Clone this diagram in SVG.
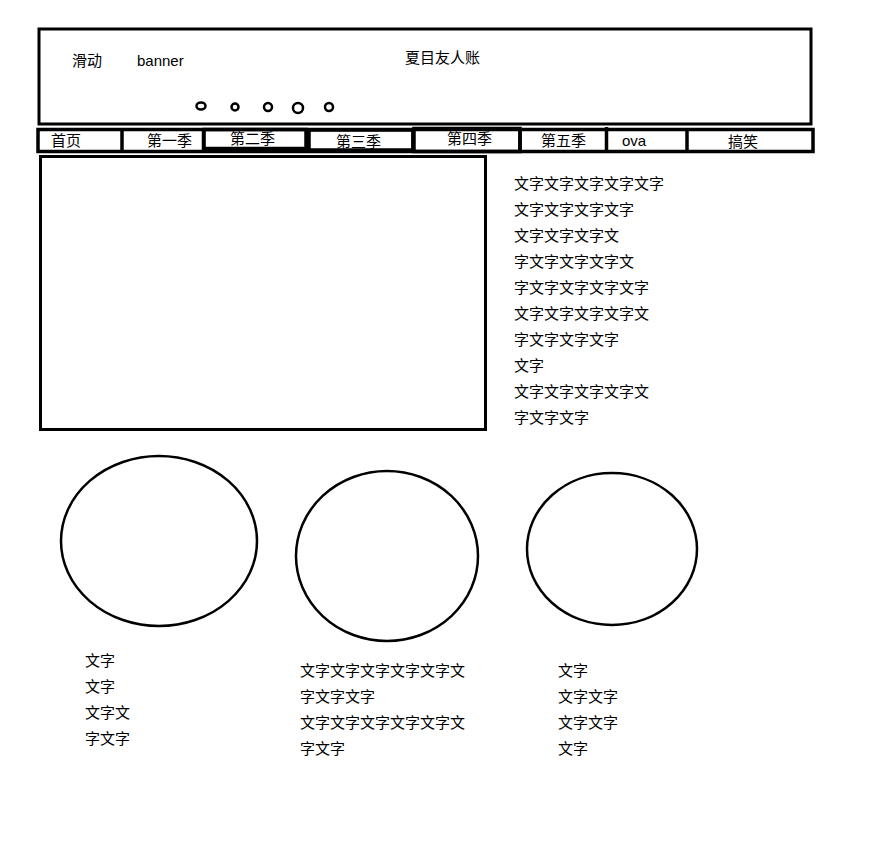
<svg xmlns="http://www.w3.org/2000/svg" width="894" height="841" viewBox="0 0 894 841">
<style>
.box{fill:none;stroke:#000;stroke-width:3}
.nb{fill:none;stroke:#000;stroke-width:3.5}
.dot{fill:#fff;stroke:#000;stroke-width:2.5}
.ell{fill:none;stroke:#000;stroke-width:2.5}
text{font-family:"Liberation Sans","Noto Sans CJK SC",sans-serif;font-size:15px;fill:#000}
.cj{font-family:"Noto Sans CJK SC","Liberation Sans",sans-serif;font-size:15px}
</style>
<rect width="894" height="841" fill="#fff"/>
<g id="banner">
<rect class="box" x="39" y="29" width="772" height="95"/>
<text class="cj" x="72" y="66">滑动</text>
<text x="137" y="66" font-size="16">banner</text>
<text class="cj" x="405" y="63">夏目友人账</text>
<ellipse class="dot" cx="201" cy="106" rx="4.5" ry="3.5"/>
<circle class="dot" cx="235" cy="107" r="3.5"/>
<circle class="dot" cx="268" cy="107" r="4"/>
<circle class="dot" cx="298" cy="108" r="5"/>
<circle class="dot" cx="329" cy="107" r="4"/>
</g>
<g id="nav">
<rect class="nb" x="38" y="129.5" width="775" height="22"/>
<line class="nb" x1="122" y1="129" x2="122" y2="152"/>
<line class="nb" x1="203.5" y1="129" x2="203.5" y2="152"/>
<rect class="nb" x="204" y="129.5" width="102" height="19"/>
<line class="nb" x1="308" y1="129" x2="308" y2="152"/>
<rect class="nb" x="309" y="130" width="104" height="20"/>
<line class="nb" x1="413" y1="129" x2="413" y2="152"/>
<rect class="nb" x="414" y="128.5" width="106" height="23"/>
<line class="nb" x1="520" y1="129" x2="520" y2="153"/>
<line class="nb" x1="606.5" y1="127" x2="606.5" y2="152"/>
<line class="nb" x1="687" y1="129" x2="687" y2="152"/>
<text class="cj" x="51" y="146">首页</text>
<text class="cj" x="147" y="146">第一季</text>
<text class="cj" x="230" y="144">第二季</text>
<text class="cj" x="336" y="147">第三季</text>
<text class="cj" x="447" y="144">第四季</text>
<text class="cj" x="541" y="146">第五季</text>
<text x="622" y="146" font-size="16">ova</text>
<text class="cj" x="728" y="147">搞笑</text>
</g>
<g id="content">
<rect class="box" x="40.5" y="156.5" width="445" height="273"/>
</g>
<g id="sidetext">
<text class="cj" x="514" y="189">文字文字文字文字文字</text>
<text class="cj" x="514" y="215">文字文字文字文字</text>
<text class="cj" x="514" y="241">文字文字文字文</text>
<text class="cj" x="514" y="267">字文字文字文字文</text>
<text class="cj" x="514" y="293">字文字文字文字文字</text>
<text class="cj" x="514" y="319">文字文字文字文字文</text>
<text class="cj" x="514" y="345">字文字文字文字</text>
<text class="cj" x="514" y="371">文字</text>
<text class="cj" x="514" y="397">文字文字文字文字文</text>
<text class="cj" x="514" y="423">字文字文字</text>
</g>
<g id="card1">
<ellipse class="ell" cx="159" cy="541" rx="98" ry="85"/>
<text class="cj" x="85" y="666">文字</text>
<text class="cj" x="85" y="692">文字</text>
<text class="cj" x="85" y="718">文字文</text>
<text class="cj" x="85" y="744">字文字</text>
</g>
<g id="card2">
<ellipse class="ell" cx="387" cy="556" rx="91" ry="85"/>
<text class="cj" x="300" y="676">文字文字文字文字文字文</text>
<text class="cj" x="300" y="702">字文字文字</text>
<text class="cj" x="300" y="728">文字文字文字文字文字文</text>
<text class="cj" x="300" y="754">字文字</text>
</g>
<g id="card3">
<ellipse class="ell" cx="612" cy="549" rx="85" ry="76"/>
<text class="cj" x="558" y="676">文字</text>
<text class="cj" x="558" y="702">文字文字</text>
<text class="cj" x="558" y="728">文字文字</text>
<text class="cj" x="558" y="754">文字</text>
</g>
<g id="connectors"></g>
</svg>
